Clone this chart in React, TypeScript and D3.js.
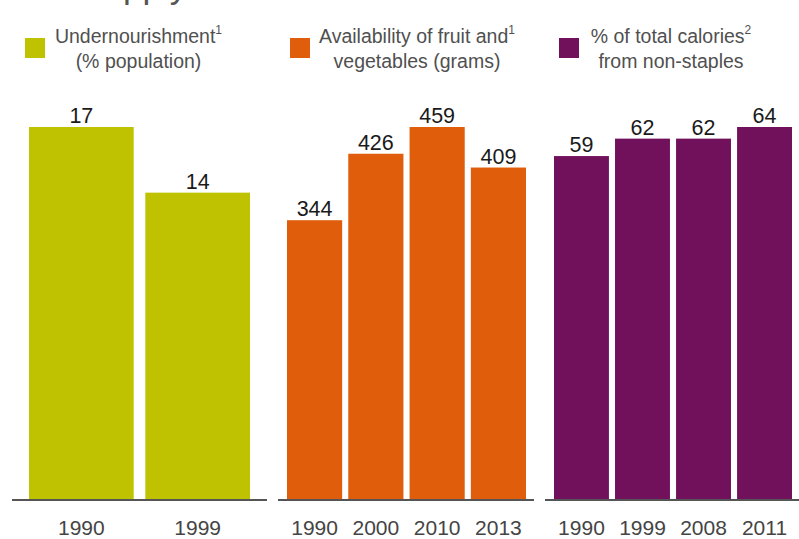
import * as d3 from 'd3';

// ─── Data ───────────────────────────────────────────────
const underYears = ['1990', '1999'];
const underValues = [17, 14];

const fruitYears = ['1990', '2000', '2010', '2013'];
const fruitValues = [344, 426, 459, 409];

const caloriesYears = ['1990', '1999', '2008', '2011'];
const caloriesValues = [59, 62, 62, 64];

const legendLines = [
  ['Undernourishment', '(% population)'],
  ['Availability of fruit and', 'vegetables (grams)'],
  ['% of total calories', 'from non-staples'],
];
const legendSups = ['1', '1', '2'];

const colors = ['#bfc200', '#e05e0b', '#71105b'];

// ─── Layout ─────────────────────────────────────────────
const W = 799;
const H = 539;
const baseY = 499;
const topY = 127;

const panels = [
  { years: underYears, values: underValues, bars: [29, 250], axis: [12, 267], legendX: 138.5, swatchX: 25 },
  { years: fruitYears, values: fruitValues, bars: [287, 526], axis: [278, 534], legendX: 417, swatchX: 290 },
  { years: caloriesYears, values: caloriesValues, bars: [554, 792], axis: [545, 799], legendX: 671, swatchX: 559 },
];

const FONT = 'Arial, "Liberation Sans", Helvetica, sans-serif';

export default function App() {
  return (
    <svg
      width={W}
      height={H}
      style={{ position: 'absolute', left: 0, top: 0, background: '#fff' }}
      fontFamily={FONT}
    >
      {/* title, cut off at the top edge */}
      <text x={86} y={-2} fontSize={35} fill="#555">supply</text>

      {panels.map((p, i) => {
        const x = d3
          .scaleBand<string>()
          .domain(p.years)
          .range(p.bars as [number, number])
          .paddingInner(0.1)
          .paddingOuter(0);
        const y = d3
          .scaleLinear()
          .domain([0, d3.max(p.values) as number])
          .range([baseY, topY]);

        return (
          <g key={i}>
            {/* legend */}
            <rect x={p.swatchX} y={38} width={20} height={20} fill={colors[i]} />
            <text x={p.legendX} y={43} fontSize={19.5} fill="#505050" textAnchor="middle">
              {legendLines[i][0]}
              <tspan fontSize={12} dy={-9}>{legendSups[i]}</tspan>
            </text>
            <text x={p.legendX} y={68} fontSize={19.5} fill="#505050" textAnchor="middle">
              {legendLines[i][1]}
            </text>

            {/* bars */}
            {p.values.map((v, j) => {
              const bx = x(p.years[j]) as number;
              const bw = x.bandwidth();
              return (
                <g key={j}>
                  <rect
                    x={bx}
                    y={y(v)}
                    width={bw}
                    height={baseY - y(v)}
                    fill={colors[i]}
                  />
                  <text
                    x={bx + bw / 2}
                    y={y(v) - 4}
                    fontSize={21.5}
                    fill="#1a1a1a"
                    textAnchor="middle"
                  >
                    {v}
                  </text>
                  <text
                    x={bx + bw / 2}
                    y={535}
                    fontSize={21}
                    fill="#444"
                    textAnchor="middle"
                  >
                    {p.years[j]}
                  </text>
                </g>
              );
            })}

            {/* baseline */}
            <line
              x1={p.axis[0]}
              x2={p.axis[1]}
              y1={baseY + 1}
              y2={baseY + 1}
              stroke="#555"
              strokeWidth={2}
            />
          </g>
        );
      })}
    </svg>
  );
}
